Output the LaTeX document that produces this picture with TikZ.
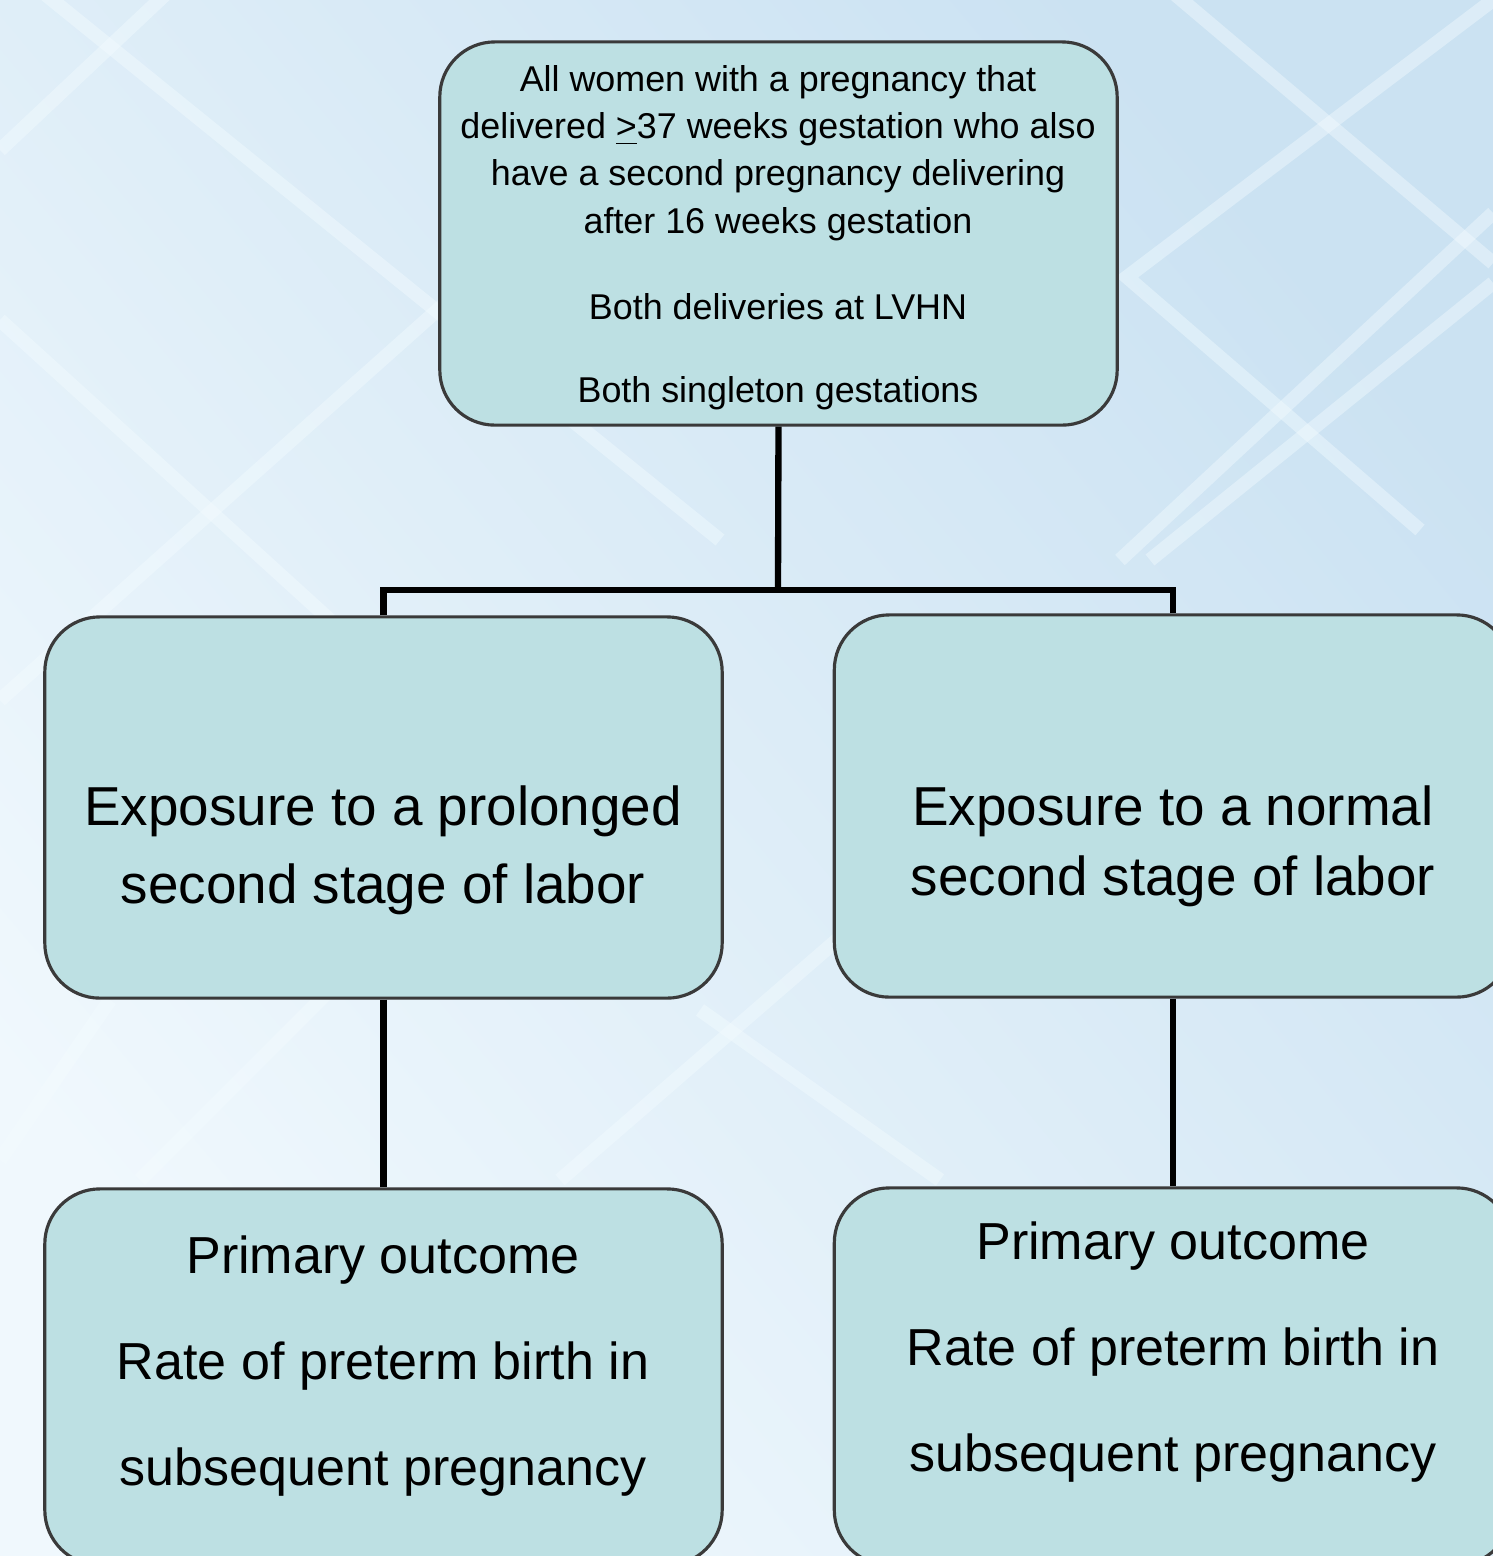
\documentclass[tikz,border=0pt]{standalone}
\usepackage{fontspec}
\setmainfont{Liberation Sans}
\definecolor{boxfill}{HTML}{BDE0E3}
\definecolor{boxline}{HTML}{3A3A3A}
\definecolor{bgA}{HTML}{F0F8FD}
\definecolor{bgB}{HTML}{CBE2F2}
\definecolor{bgline}{HTML}{F4FCFF}
\begin{document}
\begin{tikzpicture}[x=0.01cm,y=-0.01cm,
  flowbox/.style={draw=boxline,line width=0.9pt,fill=boxfill,rounded corners=0.55cm,
    minimum width=6.77cm,inner sep=0pt},
  conn/.style={draw=black,line width=1.8pt},
  txt/.style={anchor=north,align=center,inner sep=0pt,text=black},
  bgstroke/.style={draw=bgline,line width=0.14cm,opacity=0.42}]
\useasboundingbox (0,0) rectangle (1493,1556);
\begin{scope}
\clip (0,0) rectangle (1493,1556);
\shade[top color=bgB,bottom color=bgA,shading angle=-50] (0,0) rectangle (1493,1556);
% decorative background lines
\draw[bgstroke] (0,150) -- (170,-10);
\draw[bgstroke] (40,-10) -- (720,540);
\draw[bgstroke] (0,320) -- (330,620);
\draw[bgstroke] (460,290) -- (0,700);
\draw[bgstroke] (1170,-10) -- (1493,263);
\draw[bgstroke] (1493,0) -- (1127,277) -- (1420,530);
\draw[bgstroke] (1493,213) -- (1120,560);
\draw[bgstroke] (1493,283) -- (1150,560);
\draw[bgstroke] (0,1160) -- (110,1000);
\draw[bgstroke] (140,1180) -- (330,990);
\draw[bgstroke] (560,1180) -- (860,920);
\draw[bgstroke] (700,1010) -- (940,1180);

% boxes
\node[flowbox,minimum height=3.83cm] (top) at (778.5,233.5) {};
\node[flowbox,minimum height=3.81cm] (ml) at (383.5,807.5) {};
\node[flowbox,minimum height=3.82cm] (mr) at (1173,806) {};
\node[flowbox,minimum height=3.76cm] (bl) at (383.5,1377) {};
\node[flowbox,minimum height=3.77cm] (br) at (1173,1376.5) {};

% connectors
\coordinate (hb) at (778,590);
\draw[conn] (top.south) -- (hb);
\draw[conn] (ml.north) |- (hb);
\draw[conn] (mr.north) |- (hb);
\draw[conn] (ml.south) -- (bl.north);
\draw[conn] (mr.south) -- (br.north);

% texts
\node[txt,font=\fontsize{10.2}{13.4}\selectfont] (ttop) at (778,65)
  {All women with a pregnancy that\\
   delivered \underline{>}37 weeks gestation who also\\
   have a second pregnancy delivering\\
   after 16 weeks gestation\\[0.39cm]
   Both deliveries at LVHN\\[0.36cm]
   Both singleton gestations};
\node[txt,font=\fontsize{15.6}{22.1}\selectfont] (tml) at (383,785)
  {Exposure to a prolonged\\second stage of labor};
\node[txt,font=\fontsize{15.6}{19.9}\selectfont] (tmr) at (1173,785)
  {Exposure to a normal\\second stage of labor};
\node[txt,font=\fontsize{14.8}{30.2}\selectfont] (tbl) at (383,1235)
  {Primary outcome\\Rate of preterm birth in\\subsequent pregnancy};
\node[txt,font=\fontsize{14.8}{30.2}\selectfont] (tbr) at (1173,1221)
  {Primary outcome\\Rate of preterm birth in\\subsequent pregnancy};
\end{scope}
\end{tikzpicture}
\end{document}
